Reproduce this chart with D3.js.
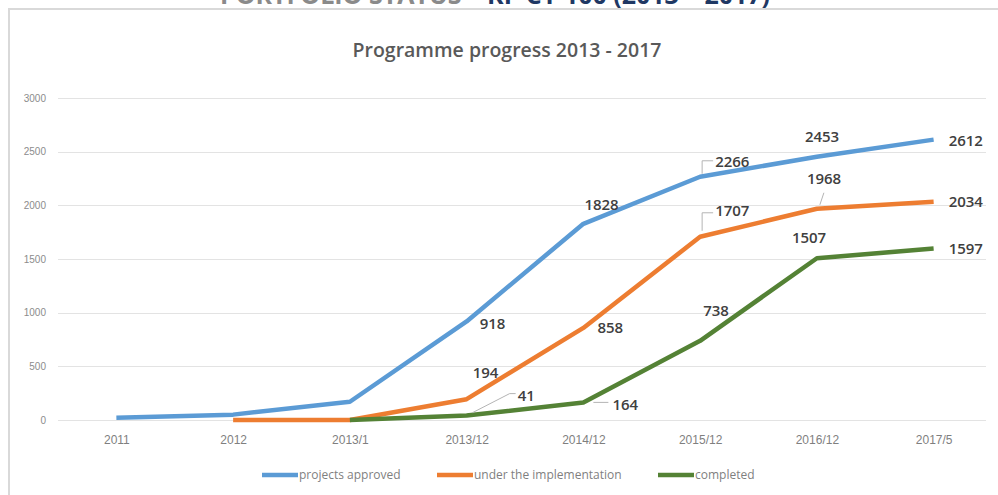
<!DOCTYPE html>
<html>
<head>
<meta charset="utf-8">
<script src="https://cdn.jsdelivr.net/npm/d3@7"></script>
<style>
  body { margin: 0; background: #fff; }
  svg { display: block; font-family: "Open Sans", sans-serif; }
</style>
</head>
<body>
<div id="root"></div>
<script>
// chart values
var periods = ['2011', '2012', '2013/1', '2013/12', '2014/12', '2015/12', '2016/12', '2017/5'];
var approved = [20, 50, 170, 918, 1828, 2266, 2453, 2612];
var underImpl = [null, 0, 0, 194, 858, 1707, 1968, 2034];
var completed = [null, null, 0, 41, 164, 738, 1507, 1597];
var yTicks = [0, 500, 1000, 1500, 2000, 2500, 3000];
var seriesNames = ['projects approved', 'under the implementation', 'completed'];
var colors = ['#5b9bd5', '#ed7d31', '#548235'];

// which points carry a label, and where it sits relative to the point
var labelPlacement = [
  { 3: [13, 2], 4: [1, -19], 5: [15, -15, [[2, -3], [2, -16], [13, -16]]], 6: [-12, -20], 7: [15, 1] },
  { 3: [6, -26], 4: [14, 0], 5: [15, -26, [[2, -6], [2, -24], [13, -24]]], 6: [-10, -30, [[3, -4], [7, -16]]], 7: [15, 0] },
  { 3: [51, -20, [[6, -3], [43, -22], [49, -22]]], 4: [29, 2, [[10, 0], [25, 0]]], 5: [3, -30], 6: [-25, -20], 7: [15, 0] }
];

var W = 998, H = 495;
var svg = d3.select('#root')
  .append('svg')
    .attr('width', W)
    .attr('height', H);

// slide heading above the chart, cut off by the top edge as in the source
var head = svg.append('text')
  .attr('x', 495)
  .attr('y', 4)
  .attr('text-anchor', 'middle')
  .style('font-size', '25px')
  .style('font-weight', 700);
head.append('tspan').attr('fill', '#8a8a8a').text('PORTFOLIO STATUS – ');
head.append('tspan').attr('fill', '#1f3864').text('KP CY 100 (2013 – 2017)');

// chart frame
svg.append('path')
  .attr('d', 'M9,' + H + ' V9 H' + W)
  .attr('fill', 'none')
  .attr('stroke', '#d9d9d9')
  .attr('stroke-width', 2);

svg.append('text')
  .attr('x', 507)
  .attr('y', 57)
  .attr('text-anchor', 'middle')
  .attr('fill', '#595959')
  .style('font-size', '19.5px')
  .style('font-weight', 600)
  .text('Programme progress 2013 - 2017');

var x = d3.scalePoint()
  .domain(periods)
  .range([58, 992])
  .padding(0.5);

var y = d3.scaleLinear()
  .domain([0, 3000])
  .range([420, 98]);

// gridlines
svg.append('g')
  .selectAll('line')
  .data(yTicks)
  .enter()
  .append('line')
    .attr('x1', 58)
    .attr('x2', 986)
    .attr('y1', d => Math.round(y(d)) + 0.5)
    .attr('y2', d => Math.round(y(d)) + 0.5)
    .attr('stroke', '#e3e3e3')
    .attr('stroke-width', 1);

var yAxis = svg.append('g')
  .attr('transform', 'translate(46,0)')
  .call(d3.axisLeft(y).tickValues(yTicks).tickFormat(d3.format('d')).tickSize(0).tickPadding(0));
yAxis.select('.domain').remove();
yAxis.selectAll('text')
  .attr('fill', '#8c8c8c')
  .style('font-size', '10px')
  .style('font-family', '"Liberation Sans", sans-serif');

var xAxis = svg.append('g')
  .attr('transform', 'translate(0,435)')
  .call(d3.axisBottom(x).tickSize(0).tickPadding(0));
xAxis.select('.domain').remove();
xAxis.selectAll('text')
  .attr('fill', '#7f7f7f')
  .style('font-size', '12px');

var allSeries = [approved, underImpl, completed];

var line = d3.line()
  .defined(d => d.v !== null)
  .x(d => x(d.p))
  .y(d => y(d.v));

allSeries.forEach((vals, s) => {
  var pts = vals.map((v, i) => ({ p: periods[i], v: v }));
  svg.append('path')
    .datum(pts)
    .attr('d', line)
    .attr('fill', 'none')
    .attr('stroke', colors[s])
    .attr('stroke-width', 4.5)
    .attr('stroke-linejoin', 'round');
});

// data labels and leader lines
allSeries.forEach((vals, s) => {
  var g = svg.append('g');
  Object.keys(labelPlacement[s]).forEach(k => {
    var i = +k;
    var pl = labelPlacement[s][k];
    var px = x(periods[i]), py = y(vals[i]);
    if (pl[2]) {
      g.append('path')
        .attr('d', d3.line()(pl[2].map(o => [px + o[0], py + o[1]])))
        .attr('fill', 'none')
        .attr('stroke', '#b4b4b4')
        .attr('stroke-width', 1);
    }
    g.append('text')
      .attr('x', px + pl[0])
      .attr('y', py + pl[1])
      .attr('dy', '0.35em')
      .attr('fill', '#404040')
      .style('font-size', '15px')
      .style('font-weight', 600)
      .text(vals[i]);
  });
});

// legend
var legendX = [262, 437, 658];
var legend = svg.append('g')
  .selectAll('g')
  .data(seriesNames)
  .enter()
  .append('g')
    .attr('transform', (d, i) => 'translate(' + legendX[i] + ',475)');
legend.append('line')
  .attr('x1', 0)
  .attr('x2', 36)
  .attr('stroke', (d, i) => colors[i])
  .attr('stroke-width', 4.5);
legend.append('text')
  .attr('x', 37)
  .attr('dy', '0.35em')
  .attr('fill', '#7f7f7f')
  .style('font-size', '12px')
  .text(d => d);
</script>
</body>
</html>
